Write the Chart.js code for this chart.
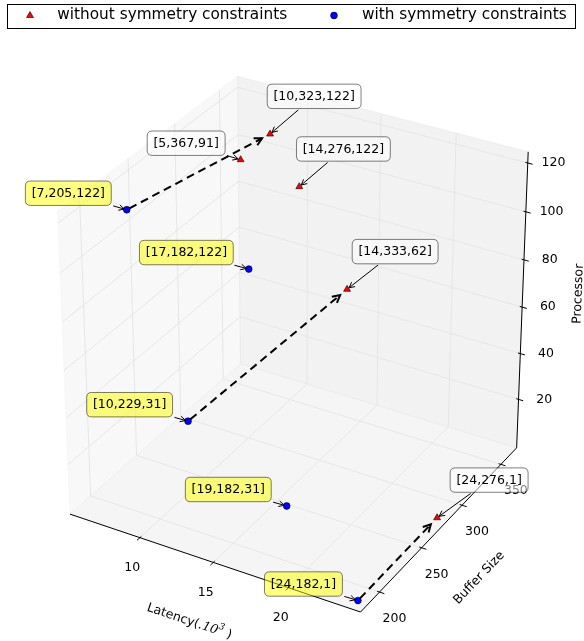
<!DOCTYPE html>
<html>
<head>
<meta charset="utf-8">
<script src="https://cdn.jsdelivr.net/npm/chart.js@4.4.1/dist/chart.umd.min.js"></script>
<style>
    html, body { margin: 0; padding: 0; background: #fff; }
    #wrap { position: relative; width: 584px; height: 641px; }
</style>
</head>
<body>
<div id="wrap"><canvas id="chart" width="584" height="641"></canvas></div>
<script>
// Points without symmetry constraints (red triangles)
const withoutLatency = [10.25, 5.52, 14.98, 14.94, 24.3];
const withoutBuffer = [323, 367, 276, 333, 276];
const withoutProcessor = [122, 91, 122, 62, 1];
const withoutLabelSide = ['right', 'left', 'right', 'right', 'right'];

// Points with symmetry constraints (blue circles)
const withLatency = [7.95, 17.31, 10.21, 19.67, 24.3];
const withBuffer = [205, 182, 229, 182, 182];
const withProcessor = [122, 122, 31, 31, 1];
const withLabelSide = ['left', 'left', 'left', 'left', 'left'];

// dashed arrows: index in "with" -> index in "without"
const arrowFrom = [0, 2, 4];
const arrowTo = [0, 3, 4];

const latencyTicks = [10, 15, 20];
const bufferTicks = [200, 250, 300, 350];
const processorTicks = [20, 40, 60, 80, 100, 120];

const seriesNames = ['without symmetry constraints', 'with symmetry constraints'];

const FONT = '"DejaVu Sans", "Liberation Sans", sans-serif';

// 3d view, same as a default matplotlib Axes3D
const ELEV = 30, AZIM = -60, DIST = 10;
const PANE_PAD = 1 / 48;
const TICK_DELTA = 1 / 12;

// where the 2d view lands on the canvas (pixels)
const VIEW = { x0: 296.9, y0: 334.7, sx: 3220, sy: 3315, w: 584, h: 641 };

const er = ELEV * Math.PI / 180, ar = AZIM * Math.PI / 180;
const nVec = [Math.cos(ar) * Math.cos(er), Math.sin(ar) * Math.cos(er), Math.sin(er)];
const uLen = Math.hypot(nVec[0], nVec[1]);
const uVec = [-nVec[1] / uLen, nVec[0] / uLen, 0];
const vVec = [
    nVec[1] * uVec[2] - nVec[2] * uVec[1],
    nVec[2] * uVec[0] - nVec[0] * uVec[2],
    nVec[0] * uVec[1] - nVec[1] * uVec[0]
];

const allLat = withoutLatency.concat(withLatency);
const allBuf = withoutBuffer.concat(withBuffer);
const allProc = withoutProcessor.concat(withProcessor);
const lims = [
    [Math.min(...allLat), Math.max(...allLat)],
    [Math.min(...allBuf), Math.max(...allBuf)],
    [Math.min(...allProc), Math.max(...allProc)]
];

function norm(axis, val) {
    return (val - lims[axis][0]) / (lims[axis][1] - lims[axis][0]);
}

function projNorm(a, b, c) {
    const d = [a - 0.5, b - 0.5, c - 0.5];
    const dot = w => w[0] * d[0] + w[1] * d[1] + w[2] * d[2];
    const w = DIST - dot(nVec);
    return { x: dot(uVec) / w, y: dot(vVec) / w };
}

function project(lat, buf, proc) {
    return projNorm(norm(0, lat), norm(1, buf), norm(2, proc));
}

const redPoints = withoutLatency.map((v, i) => project(v, withoutBuffer[i], withoutProcessor[i]));
const bluePoints = withLatency.map((v, i) => project(v, withBuffer[i], withProcessor[i]));

function pointLabel(lat, buf, proc) {
    return '[' + Math.floor(lat) + ',' + buf + ',' + proc + ']';
}

function arrowHead(ctx, x1, y1, x2, y2, len, half) {
    const a = Math.atan2(y2 - y1, x2 - x1);
    const c = Math.cos(a), s = Math.sin(a);
    ctx.beginPath();
    ctx.moveTo(x2 - len * c + half * s, y2 - len * s - half * c);
    ctx.lineTo(x2, y2);
    ctx.lineTo(x2 - len * c - half * s, y2 - len * s + half * c);
    ctx.stroke();
}

function roundRect(ctx, x, y, w, h, r) {
    ctx.beginPath();
    ctx.moveTo(x + r, y);
    ctx.lineTo(x + w - r, y);
    ctx.quadraticCurveTo(x + w, y, x + w, y + r);
    ctx.lineTo(x + w, y + h - r);
    ctx.quadraticCurveTo(x + w, y + h, x + w - r, y + h);
    ctx.lineTo(x + r, y + h);
    ctx.quadraticCurveTo(x, y + h, x, y + h - r);
    ctx.lineTo(x, y + r);
    ctx.quadraticCurveTo(x, y, x + r, y);
    ctx.closePath();
}

const axes3d = {
    id: 'axes3d',
    beforeDatasetsDraw(chart) {
        const ctx = chart.ctx;
        const sx = chart.scales.x, sy = chart.scales.y;
        const toPx = (a, b, c) => {
            const p = projNorm(a, b, c);
            return [sx.getPixelForValue(p.x), sy.getPixelForValue(p.y)];
        };
        const lo = -PANE_PAD, hi = 1 + PANE_PAD;
        const poly = pts => {
            ctx.beginPath();
            pts.forEach((p, i) => {
                const q = toPx(p[0], p[1], p[2]);
                if (i === 0) ctx.moveTo(q[0], q[1]); else ctx.lineTo(q[0], q[1]);
            });
        };
        ctx.save();

        // Panes
        const panes = [
            { pts: [[lo, lo, lo], [lo, hi, lo], [lo, hi, hi], [lo, lo, hi]], c: 242 },
            { pts: [[lo, hi, lo], [hi, hi, lo], [hi, hi, hi], [lo, hi, hi]], c: 230 },
            { pts: [[lo, lo, lo], [hi, lo, lo], [hi, hi, lo], [lo, hi, lo]], c: 236 }
        ];
        panes.forEach(p => {
            const col = 'rgba(' + p.c + ',' + p.c + ',' + p.c + ',0.5)';
            poly(p.pts);
            ctx.closePath();
            ctx.fillStyle = col;
            ctx.fill();
            ctx.strokeStyle = col;
            ctx.lineWidth = 1;
            ctx.stroke();
        });

        const axes = [
            {
                ticks: latencyTicks.map(v => norm(0, v)), labels: latencyTicks,
                grid: t => [[t, lo, lo], [t, hi, lo], [t, hi, hi]],
                line: [[lo, lo, lo], [hi, lo, lo]],
                tick: (t, f) => [t, lo - f * TICK_DELTA, lo],
                labelOff: [-7.6, 30.2],
                title: 'Latency', titleOff: [-26, 58.5]
            },
            {
                ticks: bufferTicks.map(v => norm(1, v)), labels: bufferTicks,
                grid: t => [[lo, t, hi], [lo, t, lo], [hi, t, lo]],
                line: [[hi, lo, lo], [hi, hi, lo]],
                tick: (t, f) => [hi + f * TICK_DELTA, t, lo],
                labelOff: [15, 26.5],
                title: 'Buffer Size', titleOff: [40.5, 48]
            },
            {
                ticks: processorTicks.map(v => norm(2, v)), labels: processorTicks,
                grid: t => [[hi, hi, t], [lo, hi, t], [lo, lo, t]],
                line: [[hi, hi, lo], [hi, hi, hi]],
                tick: (t, f) => [hi + f * TICK_DELTA, hi, t],
                labelOff: [25.7, 0],
                title: 'Processor', titleOff: [56, -6]
            }
        ];

        axes.forEach(ax => {
            // grid
            ctx.strokeStyle = 'rgb(230,230,230)';
            ctx.lineWidth = 1;
            ax.ticks.forEach(t => { poly(ax.grid(t)); ctx.stroke(); });

            // axis line
            ctx.strokeStyle = '#000';
            ctx.lineWidth = 1;
            poly(ax.line);
            ctx.stroke();

            // ticks and labels
            ctx.font = '12.5px ' + FONT;
            ctx.fillStyle = '#000';
            ctx.textAlign = 'center';
            ctx.textBaseline = 'middle';
            ax.ticks.forEach((t, i) => {
                poly([ax.tick(t, -0.1), ax.tick(t, 0.2)]);
                ctx.stroke();
                const p = toPx(...ax.tick(t, 0));
                ctx.fillText(String(ax.labels[i]), p[0] + ax.labelOff[0], p[1] + ax.labelOff[1]);
            });

            // axis title, along the projected axis
            const a = toPx(...ax.line[0]), b = toPx(...ax.line[1]);
            const ang = Math.atan2(b[1] - a[1], b[0] - a[0]);
            const cx = (a[0] + b[0]) / 2 + ax.titleOff[0];
            const cy = (a[1] + b[1]) / 2 + ax.titleOff[1];
            ctx.save();
            ctx.translate(cx, cy);
            ctx.rotate(ang);
            if (ax.title === 'Latency') {
                const parts = [
                    { t: 'Latency(', f: '12.5px ' + FONT, dy: 0 },
                    { t: '.10', f: 'italic 12.5px "DejaVu Serif", serif', dy: 0 },
                    { t: '3', f: 'italic 9px "DejaVu Serif", serif', dy: -5 },
                    { t: ' )', f: '12.5px ' + FONT, dy: 0 }
                ];
                let total = 0;
                parts.forEach(p => { ctx.font = p.f; p.w = ctx.measureText(p.t).width; total += p.w; });
                let x = -total / 2;
                ctx.textAlign = 'left';
                parts.forEach(p => { ctx.font = p.f; ctx.fillText(p.t, x, p.dy); x += p.w; });
            } else {
                ctx.font = '12.5px ' + FONT;
                ctx.fillText(ax.title, 0, 0);
            }
            ctx.restore();
        });
        ctx.restore();
    },
    afterDatasetsDraw(chart) {
        const ctx = chart.ctx;
        const sx = chart.scales.x, sy = chart.scales.y;
        const pix = p => [sx.getPixelForValue(p.x), sy.getPixelForValue(p.y)];
        ctx.save();

        // dashed arrows from the constrained to the unconstrained solution
        arrowFrom.forEach((fi, k) => {
            const a = pix(bluePoints[fi]), b = pix(redPoints[arrowTo[k]]);
            const dx = b[0] - a[0], dy = b[1] - a[1], L = Math.hypot(dx, dy);
            const ux = dx / L, uy = dy / L;
            const s = [a[0] + ux * 3, a[1] + uy * 3], e = [b[0] - ux * 9, b[1] - uy * 9];
            ctx.strokeStyle = '#000';
            ctx.lineWidth = 2;
            ctx.setLineDash([8, 5]);
            ctx.beginPath();
            ctx.moveTo(s[0], s[1]);
            ctx.lineTo(e[0], e[1]);
            ctx.stroke();
            ctx.setLineDash([]);
            arrowHead(ctx, s[0], s[1], e[0], e[1], 7.5, 4);
        });

        // annotation boxes: 'left' puts the box up-left of the point, 'right' above-right
        ctx.font = '12.5px ' + FONT;
        const offsets = { left: [-15.5, -4.3], right: [91, -25.5] };
        const annotate = (pt, text, fill, side) => {
            const p = pix(pt);
            const tw = ctx.measureText(text).width;
            const w = tw + 12.5, h = 24.4;
            const right = p[0] + offsets[side][0], bottom = p[1] + offsets[side][1];
            const left = right - w, top = bottom - h;
            const cx = left + w / 2, cy = top + h / 2;
            // arrow from the box edge to the point
            const dx = p[0] - cx, dy = p[1] - cy;
            const tx = dx !== 0 ? ((dx > 0 ? right : left) - cx) / dx : Infinity;
            const ty = dy !== 0 ? ((dy > 0 ? bottom : top) - cy) / dy : Infinity;
            const t = Math.min(tx, ty);
            const L = Math.hypot(dx, dy);
            const sx0 = cx + dx * t + dx / L * 2, sy0 = cy + dy * t + dy / L * 2;
            const ex = p[0] - dx / L * 2.5, ey = p[1] - dy / L * 2.5;
            ctx.strokeStyle = '#000';
            ctx.lineWidth = 1;
            ctx.beginPath();
            ctx.moveTo(sx0, sy0);
            ctx.lineTo(ex, ey);
            ctx.stroke();
            arrowHead(ctx, sx0, sy0, ex, ey, 5.5, 2.8);
            roundRect(ctx, left, top, w, h, 5);
            ctx.fillStyle = fill;
            ctx.fill();
            ctx.strokeStyle = 'rgba(0,0,0,0.5)';
            ctx.stroke();
            ctx.fillStyle = '#000';
            ctx.textAlign = 'center';
            ctx.textBaseline = 'middle';
            ctx.fillText(text, cx, cy + 0.5);
        };
        redPoints.forEach((pt, i) => annotate(pt,
            pointLabel(withoutLatency[i], withoutBuffer[i], withoutProcessor[i]),
            'rgba(255,255,255,0.5)', withoutLabelSide[i]));
        bluePoints.forEach((pt, i) => annotate(pt,
            pointLabel(withLatency[i], withBuffer[i], withProcessor[i]),
            'rgba(255,255,0,0.5)', withLabelSide[i]));

        // legend
        ctx.fillStyle = '#fff';
        ctx.fillRect(7.5, 4.5, 568, 24);
        ctx.strokeStyle = '#000';
        ctx.lineWidth = 1;
        ctx.strokeRect(7.5, 4.5, 568, 24);
        const ds = chart.data.datasets;
        const entries = [{ x: 30, tx: 57.3 }, { x: 334, tx: 362 }];
        ctx.font = '15.3px ' + FONT;
        ctx.textAlign = 'left';
        ctx.textBaseline = 'middle';
        entries.forEach((en, i) => {
            const d = ds[i];
            ctx.fillStyle = d.backgroundColor;
            ctx.strokeStyle = d.borderColor;
            ctx.lineWidth = d.borderWidth;
            Chart.helpers.drawPoint(ctx, {
                pointStyle: d.pointStyle, radius: d.pointRadius, borderWidth: d.borderWidth, rotation: 0
            }, en.x, 15.5);
            ctx.fillStyle = '#000';
            ctx.fillText(seriesNames[i], en.tx, 15.5);
        });
        ctx.restore();
    }
};

new Chart(document.getElementById('chart'), {
    type: 'scatter',
    data: {
        datasets: [{
            label: seriesNames[0],
            data: redPoints,
            pointStyle: 'triangle',
            pointRadius: 4,
            backgroundColor: '#ff0000',
            borderColor: '#000000',
            borderWidth: 0.6
        }, {
            label: seriesNames[1],
            data: bluePoints,
            pointStyle: 'circle',
            pointRadius: 3.4,
            backgroundColor: '#0000ff',
            borderColor: '#000000',
            borderWidth: 0.6
        }]
    },
    options: {
        responsive: false,
        animation: false,
        events: [],
        layout: { padding: 0, autoPadding: false },
        scales: {
            x: {
                type: 'linear', display: false,
                min: -VIEW.x0 / VIEW.sx, max: (VIEW.w - VIEW.x0) / VIEW.sx
            },
            y: {
                type: 'linear', display: false,
                min: (VIEW.y0 - VIEW.h) / VIEW.sy, max: VIEW.y0 / VIEW.sy
            }
        },
        plugins: {
            legend: { display: false },
            tooltip: { enabled: false }
        }
    },
    plugins: [axes3d]
});
</script>
</body>
</html>
